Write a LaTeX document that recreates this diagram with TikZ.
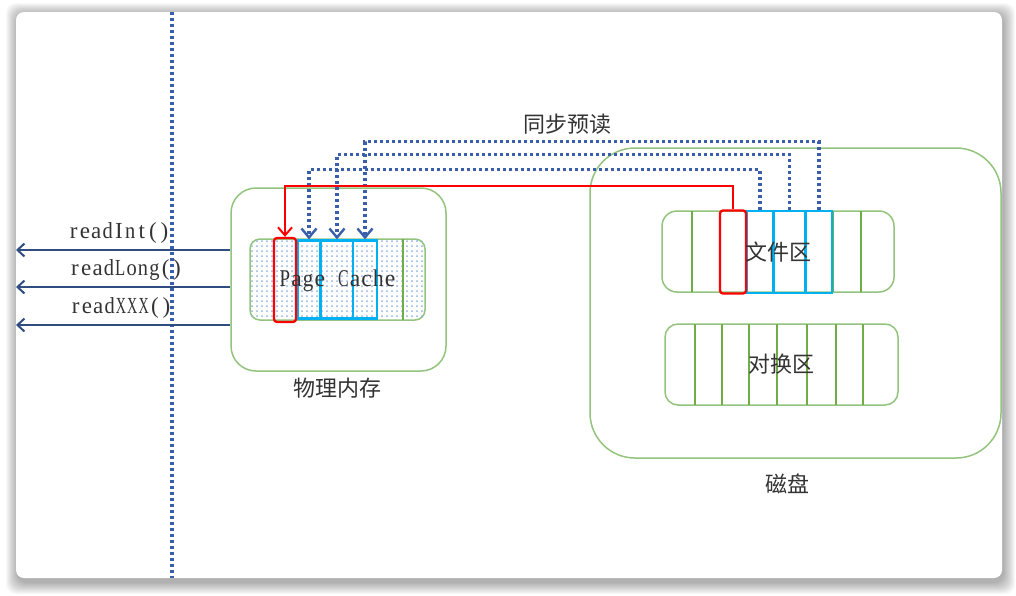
\documentclass[tikz,border=0pt]{standalone}
\usepackage{fontspec}
\setmainfont{Liberation Serif}
\newfontfamily\cjk{Noto Sans CJK SC}
\usetikzlibrary{arrows.meta,calc}
\newdimen\mwd
\newdimen\mwlim
\def\mend{\mend}
\newcommand\mcbox[1]{\setbox0=\hbox{#1}%
  \ifdim\wd0>\mwlim\makebox[\mwd][c]{\resizebox{\mwlim}{\ht0}{#1}}%
  \else\makebox[\mwd][c]{#1}\fi}
\def\mchar#1{\ifx#1\mend\else\mcbox{#1}\expandafter\mchar\fi}
\newcommand\monow[2]{\mwd=#1\relax\mwlim=0.9\mwd\mchar#2\mend}
\definecolor{gbord}{HTML}{93C47D}
\definecolor{gline}{HTML}{70AD47}
\definecolor{cblue}{HTML}{00B0F0}
\definecolor{dblue}{HTML}{3A5FAA}
\definecolor{nblue}{HTML}{2F4D80}
\definecolor{dotc}{HTML}{8DB3E2}
\definecolor{txt}{HTML}{333333}
\tikzset{
  box/.style={draw=gbord, line width=1.5pt, inner sep=0pt},
  cellred/.style={draw=red, line width=2.3pt, rounded corners=3pt, inner sep=0pt},
  cellblue/.style={draw=cblue, line width=2.3pt, inner sep=0pt},
  gsep/.style={draw=gline, line width=1.8pt},
  dotline/.style={dblue, line width=3.1pt, dash pattern=on 2.9pt off 3.1pt},
  dotarrow/.style={dotline, -{Straight Barb[length=9pt,width=15pt,line width=2.4pt]}},
  redarrow/.style={red, line width=2.2pt, -{Straight Barb[length=8pt,width=14pt,line width=2pt]}},
  harrow/.style={nblue, line width=2.2pt, -{Straight Barb[length=7pt,width=13pt,line width=2pt]}},
  cjklab/.style={font=\cjk\fontsize{22}{26}\selectfont, text=txt, inner sep=0pt},
  latlab/.style={font=\fontsize{23}{27}\selectfont, text=txt, inner sep=0pt},
}
\begin{document}
\begin{tikzpicture}[x=1pt,y=-1pt]
\useasboundingbox (0,0) rectangle (1016,595);
\fill[white] (0,0) rectangle (1016,595);
\foreach \i in {1,...,12} {
  \fill[black,opacity=0.028,rounded corners=10pt] (16-\i+2,12-\i+3) rectangle (1002+\i+1,578+\i+4);
}
\fill[white,rounded corners=8pt] (16,12) rectangle (1002,578);

% vertical dotted separator
\coordinate (vtop) at (172,12);
\coordinate (vbot) at (172,578);
\draw[dotline] (vtop) -- (vbot);

% physical memory
\node[box, rounded corners=25pt, minimum width=215pt, minimum height=183pt] (mem) at (338.5,279.5) {};
\node[cjklab] (memlab) at (337,388) {物理内存};
\node[box, rounded corners=10pt, minimum width=175pt, minimum height=81pt] (pc) at (337.5,279.5) {};
\begin{scope}
  \clip[rounded corners=10pt] (pc.south west) rectangle (pc.north east);
  \foreach \x in {252,257,...,425} {
    \foreach \y in {241,246,...,320} {
      \fill[dotc] (\x,\y) circle (1pt);
    }
  }
\end{scope}
\coordinate (g1t) at (403,239);
\coordinate (g1b) at (403,320);
\draw[gsep] (g1t) -- (g1b);
\node[cellblue, minimum width=22pt, minimum height=78pt] (b1) at (309,279.5) {};
\node[cellblue, minimum width=32pt, minimum height=78pt] (b2) at (337,279.5) {};
\node[cellblue, minimum width=24pt, minimum height=78pt] (b3) at (365,279.5) {};
\node[cellred, minimum width=22pt, minimum height=84pt] (rc) at (285,280) {};
\node[font=\fontsize{24}{28}\selectfont, text=txt, inner sep=0pt] (pclab) at (337.5,281) {\monow{11.7pt}{Page~Cache}};

% disk
\node[box, rounded corners=45pt, minimum width=411pt, minimum height=310pt] (disk) at (795.5,303) {};
\node[cjklab] (disklab) at (787,484) {磁盘};

% file area
\node[box, rounded corners=15pt, minimum width=232pt, minimum height=81pt] (file) at (778,251.5) {};
\foreach \x in {692,720,833,861} {
  \draw[gsep] (\x,211) -- (\x,292);
}
\node[cellblue, minimum width=27pt, minimum height=82pt] (fb1) at (760,252) {};
\node[cellblue, minimum width=31pt, minimum height=82pt] (fb2) at (789.5,252) {};
\node[cellblue, minimum width=26pt, minimum height=82pt] (fb3) at (819,252) {};
\node[cellred, minimum width=26pt, minimum height=83pt] (frc) at (733,252) {};
\node[cjklab] (filelab) at (778,252) {文件区};

% swap area
\node[box, rounded corners=13pt, minimum width=233pt, minimum height=81pt] (swap) at (781.5,364.5) {};
\foreach \x in {695,722,749,777,807,836,863} {
  \draw[gsep] (\x,324) -- (\x,405);
}
\node[cjklab] (swaplab) at (781,364) {对换区};

% read-ahead arrows
\node[cjklab] (sync) at (567,124) {同步预读};
\draw[dotarrow] (fb1.north) -- ++(0,-40) -| (b1.north);
\draw[dotarrow] (fb2.north) -- ++(0,-55) -| (b2.north);
\draw[dotarrow] (fb3.north) -- ++(0,-68) -| (b3.north);
\draw[redarrow] (frc.north) -- ++(0,-23) -| (rc.north);

% read methods
\coordinate (l1) at (16,250);
\coordinate (l2) at (16,287);
\coordinate (l3) at (16,325);
\draw[harrow] (mem.west |- l1) -- (l1);
\draw[harrow] (mem.west |- l2) -- (l2);
\draw[harrow] (mem.west |- l3) -- (l3);
\node[latlab] (t1) at (119,233) {\monow{11.35pt}{readInt()}};
\node[latlab] (t2) at (126,270) {\monow{11.35pt}{readLong()}};
\node[latlab] (t3) at (121,308) {\monow{11.35pt}{readXXX()}};
\end{tikzpicture}
\end{document}
